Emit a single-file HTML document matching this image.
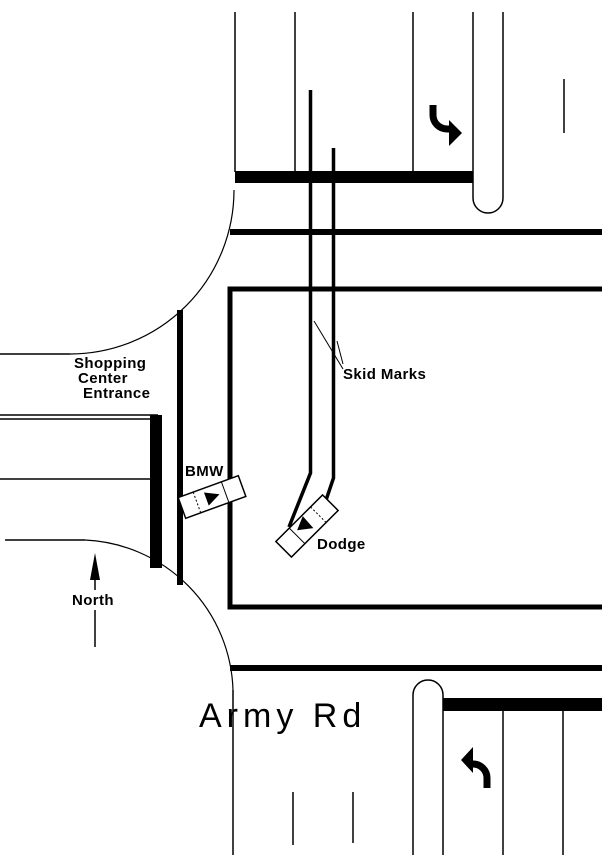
<!DOCTYPE html>
<html><head><style>body{margin:0;background:#fff}svg{display:block}</style></head><body>
<svg width="602" height="855" xmlns="http://www.w3.org/2000/svg" font-family="Liberation Sans, sans-serif">
<g stroke="#000" fill="none">
<line x1="235" y1="12" x2="235" y2="172" stroke-width="1.5"/>
<line x1="295" y1="12" x2="295" y2="172" stroke-width="1.5"/>
<line x1="413" y1="12" x2="413" y2="172" stroke-width="1.5"/>
<path d="M473,12 V198 A15,15 0 0 0 503,198 V12" stroke-width="1.5"/>
<line x1="564" y1="79" x2="564" y2="133" stroke-width="1.5"/>
<rect x="235" y="171" width="238" height="12" fill="#000" stroke="none"/>
<rect x="230" y="229" width="372" height="6" fill="#000" stroke="none"/>
<path d="M70,354 A164,164 0 0 0 234,190" stroke-width="1.2"/>
<line x1="0" y1="354" x2="70" y2="354" stroke-width="1.5"/>
<line x1="0" y1="415" x2="158" y2="415" stroke-width="1.5"/>
<line x1="0" y1="419" x2="152" y2="419" stroke-width="1.5"/>
<line x1="0" y1="479" x2="152" y2="479" stroke-width="1.5"/>
<rect x="150" y="415" width="12" height="153" fill="#000" stroke="none"/>
<rect x="177" y="310" width="6" height="275" fill="#000" stroke="none"/>
<line x1="5" y1="540" x2="85" y2="540" stroke-width="1.5"/>
<path d="M85,540 A155,155 0 0 1 233,690" stroke-width="1.2"/>
<rect x="230" y="289" width="380" height="318" stroke-width="5"/>
<rect x="230" y="665" width="372" height="6" fill="#000" stroke="none"/>
<path d="M413,855 V695 A15,15 0 0 1 443,695 V855" stroke-width="1.5"/>
<rect x="443" y="698" width="159" height="13" fill="#000" stroke="none"/>
<line x1="503" y1="711" x2="503" y2="855" stroke-width="1.5"/>
<line x1="563" y1="711" x2="563" y2="855" stroke-width="1.5"/>
<line x1="233" y1="690" x2="233" y2="855" stroke-width="1.5"/>
<line x1="293" y1="792" x2="293" y2="845" stroke-width="1.5"/>
<line x1="353" y1="792" x2="353" y2="843" stroke-width="1.5"/>
<polyline points="310.5,90 310.5,473 289,527" stroke-width="3.5"/>
<polyline points="333.5,148 333.5,478 322,512" stroke-width="3.5"/>
<line x1="314" y1="321" x2="343" y2="369" stroke-width="1"/>
<line x1="337" y1="341" x2="343" y2="364" stroke-width="1"/>
<line x1="95" y1="570" x2="95" y2="590" stroke-width="1.5"/>
<line x1="95" y1="610" x2="95" y2="647" stroke-width="1.5"/>
<path d="M433,105 V115 A14,14 0 0 0 447,129 H452" stroke-width="7"/>
<path d="M487,788 V778 A14,14 0 0 0 473,764 H470" stroke-width="7"/>
</g>
<polygon points="90,580 100,580 95,553" fill="#000"/>
<polygon points="449,120 462,133 449,146" fill="#000"/>
<polygon points="473,747 461,760 473,773" fill="#000"/>
<g transform="translate(212,497) rotate(-20)">
<rect x="-32" y="-11" width="64" height="22" fill="#fff" stroke="#000" stroke-width="1.5"/>
<line x1="14" y1="-11" x2="14" y2="11" stroke="#000"/>
<line x1="-16" y1="-11" x2="-16" y2="11" stroke="#000" stroke-dasharray="2,2"/>
<polygon points="-6,-7 -6,7 8,0" fill="#000"/>
</g>
<g transform="translate(307,526) rotate(-45)">
<rect x="-33" y="-11" width="66" height="22" fill="#fff" stroke="#000" stroke-width="1.5"/>
<line x1="-14" y1="-11" x2="-14" y2="11" stroke="#000"/>
<line x1="16" y1="-11" x2="16" y2="11" stroke="#000" stroke-dasharray="2,2"/>
<polygon points="-10,-4 4,-10 3,6" fill="#000"/>
</g>
<g font-weight="bold" font-size="15" fill="#000" letter-spacing="0.4">
<text x="74" y="368">Shopping</text>
<text x="78" y="383">Center</text>
<text x="83" y="398">Entrance</text>
<text x="185" y="476">BMW</text>
<text x="317" y="549">Dodge</text>
<text x="343" y="379">Skid Marks</text>
<text x="72" y="605">North</text>
</g>
<text x="199" y="727" font-size="34" letter-spacing="5" fill="#000">Army Rd</text>
</svg>
</body></html>
